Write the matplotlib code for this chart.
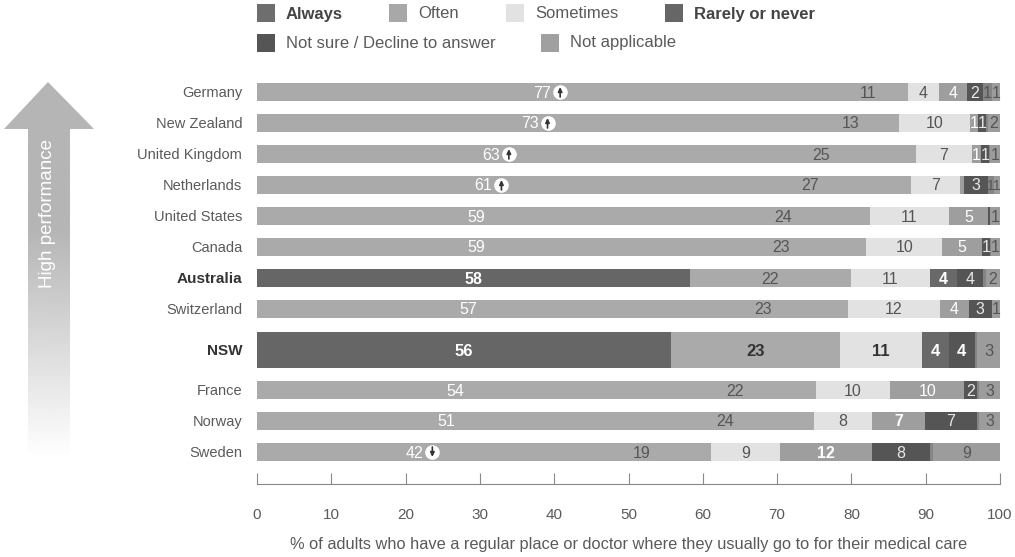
import numpy as np
import matplotlib
matplotlib.use('Agg')
import matplotlib.pyplot as plt
from matplotlib.patches import Polygon, Rectangle

plt.rcParams['font.family'] = ['Liberation Sans', 'DejaVu Sans']

countries = ['Germany', 'New Zealand', 'United Kingdom', 'Netherlands', 'United States', 'Canada',
             'Australia', 'Switzerland', 'NSW', 'France', 'Norway', 'Sweden']

always = [76.8, 73.4, 63.0, 61.0, 59.0, 59.0, 58.3, 56.8, 55.7, 53.5, 51.0, 42.4]
often = [10.8, 13.0, 25.7, 27.0, 23.5, 23.0, 21.6, 22.7, 22.7, 21.7, 23.9, 18.7]
sometimes = [4.2, 9.6, 7.5, 6.6, 10.6, 10.2, 10.7, 12.4, 11.1, 10.0, 7.9, 9.3]
rarely = [3.8, 1.0, 1.2, 0.6, 5.3, 5.4, 3.6, 3.9, 3.6, 10.0, 7.1, 12.4]
not_sure = [2.1, 1.1, 1.1, 3.2, 0.3, 1.0, 3.5, 3.1, 3.5, 1.7, 7.0, 7.8]
decline = [1.2, 0.3, 0.2, 0.8, 0.0, 0.2, 0.4, 0.0, 0.3, 0.3, 0.3, 0.4]
not_applicable = [1.1, 1.6, 1.3, 0.8, 1.3, 1.2, 1.9, 1.1, 3.1, 2.8, 2.8, 9.0]

always_lbl = [77, 73, 63, 61, 59, 59, 58, 57, 56, 54, 51, 42]
often_lbl = [11, 13, 25, 27, 24, 23, 22, 23, 23, 22, 24, 19]
sometimes_lbl = [4, 10, 7, 7, 11, 10, 11, 12, 11, 10, 8, 9]
rarely_lbl = [4, 1, 1, None, 5, 5, 4, 4, 4, 10, 7, 12]
not_sure_lbl = [2, 1, 1, 3, None, 1, 4, 3, 4, 2, 7, 8]
decline_lbl = [1, None, None, 1, None, None, None, None, None, None, None, None]
na_lbl = [1, 2, 1, 1, 1, 1, 2, 1, 3, 3, 3, 9]

trend = ['up', 'up', 'up', 'up', None, None, None, None, None, None, None, 'down']

legend_row1 = ['Always', 'Often', 'Sometimes', 'Rarely or never']
legend_row2 = ['Not sure / Decline to answer', 'Not applicable']

W, H = 1015, 557
fig = plt.figure(figsize=(W / 100, H / 100), dpi=100)

# overlay in pixel coords for legend, arrow
bg = fig.add_axes([0, 0, 1, 1])
bg.set_xlim(0, W)
bg.set_ylim(H, 0)
bg.axis('off')

ax = fig.add_axes([257 / W, 1 - 490 / H, 743 / W, 420 / H])
ax.set_xlim(0, 100)
ax.set_ylim(490, 70)
ax.patch.set_alpha(0)

row_y = [92, 123, 154, 185, 216, 247, 278, 309, 350, 390, 421, 452]
grey = '#aaaaaa'
text_dark = '#5a5a5a'

for i, name in enumerate(countries):
    y = row_y[i]
    highlight = name in ('Australia', 'NSW')
    big = name == 'NSW'
    h = 36 if big else 18
    dark = '#333333' if big else '#555555'
    segs = [
        (always[i], '#666666' if highlight else grey, always_lbl[i], 'white', highlight),
        (often[i], grey, often_lbl[i], dark, big),
        (sometimes[i], '#e2e2e2', sometimes_lbl[i], dark, big),
        (rarely[i], '#696969' if highlight else '#9e9e9e', rarely_lbl[i], 'white', highlight or rarely[i] > 7),
        (not_sure[i], '#555555', not_sure_lbl[i], 'white' if big else '#e8e8e8', big),
        (decline[i], '#858585', decline_lbl[i], '#555555', False),
        (not_applicable[i], '#9c9c9c', na_lbl[i], '#555555', False),
    ]
    left = 0
    for val, col, lbl, tc, bold in segs:
        if val > 0:
            ax.barh(y, val, left=left, height=h, color=col, linewidth=0)
        if lbl is not None:
            size = 12 if big else (10 if val < 1 else 11.5)
            ax.text(left + val / 2, y + 1, str(lbl), ha='center', va='center', color=tc, fontsize=size,
                    fontweight='bold' if bold and lbl != 10 else 'normal')
        left += val

    if trend[i]:
        cx = always[i] / 2 + 2.4
        ax.plot(cx, y, 'o', ms=10.5, mfc='white', mec='none', zorder=4)
        y0, y1 = (y + 5, y - 5) if trend[i] == 'up' else (y - 5, y + 5)
        ax.annotate('', xy=(cx, y1), xytext=(cx, y0), zorder=5,
                    arrowprops=dict(arrowstyle='-|>,head_width=0.12,head_length=0.25', color='#333333', lw=1.2,
                                    shrinkA=0, shrinkB=0))

    ax.text(-2, y + 1, name, ha='right', va='center', color='#333333' if highlight else text_dark,
            fontsize=11 if highlight else 10.5, fontweight='bold' if highlight else 'normal')

ax.set_xticks(np.arange(0, 101, 10))
ax.set_yticks([])
for s in ['top', 'left', 'right']:
    ax.spines[s].set_visible(False)
ax.spines['bottom'].set_position(('data', 484))
ax.spines['bottom'].set_color('#888888')
ax.spines['bottom'].set_linewidth(0.8)
ax.tick_params(axis='x', direction='in', length=8, width=0.8, color='#888888', labelcolor=text_dark,
               labelsize=11, pad=17)

bg.text(629, 544, '% of adults who have a regular place or doctor where they usually go to for their medical care',
        ha='center', va='center', fontsize=11.8, color=text_dark)

# legend
leg1_x = [257, 389, 506, 665]
leg1_col = ['#6e6e6e', '#a8a8a8', '#e2e2e2', '#666666']
for x, col, lbl in zip(leg1_x, leg1_col, legend_row1):
    strong = lbl in ('Always', 'Rarely or never')
    bg.add_patch(Rectangle((x, 4), 18, 18, color=col, lw=0))
    bg.text(x + 29, 14, lbl, va='center', fontsize=12, color='#444444' if strong else text_dark,
            fontweight='bold' if strong else 'normal')
leg2_x = [257, 541]
leg2_col = ['#555555', '#a0a0a0']
for x, col, lbl in zip(leg2_x, leg2_col, legend_row2):
    bg.add_patch(Rectangle((x, 34), 18, 18, color=col, lw=0))
    bg.text(x + 29, 43, lbl, va='center', fontsize=12, color=text_dark)

# performance arrow with fade
arrow = Polygon([(48, 82), (94, 129), (70, 129), (70, 458), (28, 458), (28, 129), (4, 129)],
                transform=bg.transData, fc='none', ec='none')
bg.add_patch(arrow)
fade = np.linspace(82, 458, 200)
ramp = np.where(fade < 230, 0.71, 0.71 + (fade - 230) / (458 - 230) * 0.29).reshape(-1, 1)
im = bg.imshow(ramp, extent=(0, 100, 458, 82), cmap='gray', vmin=0, vmax=1, aspect='auto')
im.set_clip_path(arrow)
bg.set_xlim(0, W)
bg.set_ylim(H, 0)
bg.text(48, 213, 'High performance', rotation=90, ha='center', va='center', color='white', fontsize=13.5)

fig.savefig('out.png', dpi=100)
